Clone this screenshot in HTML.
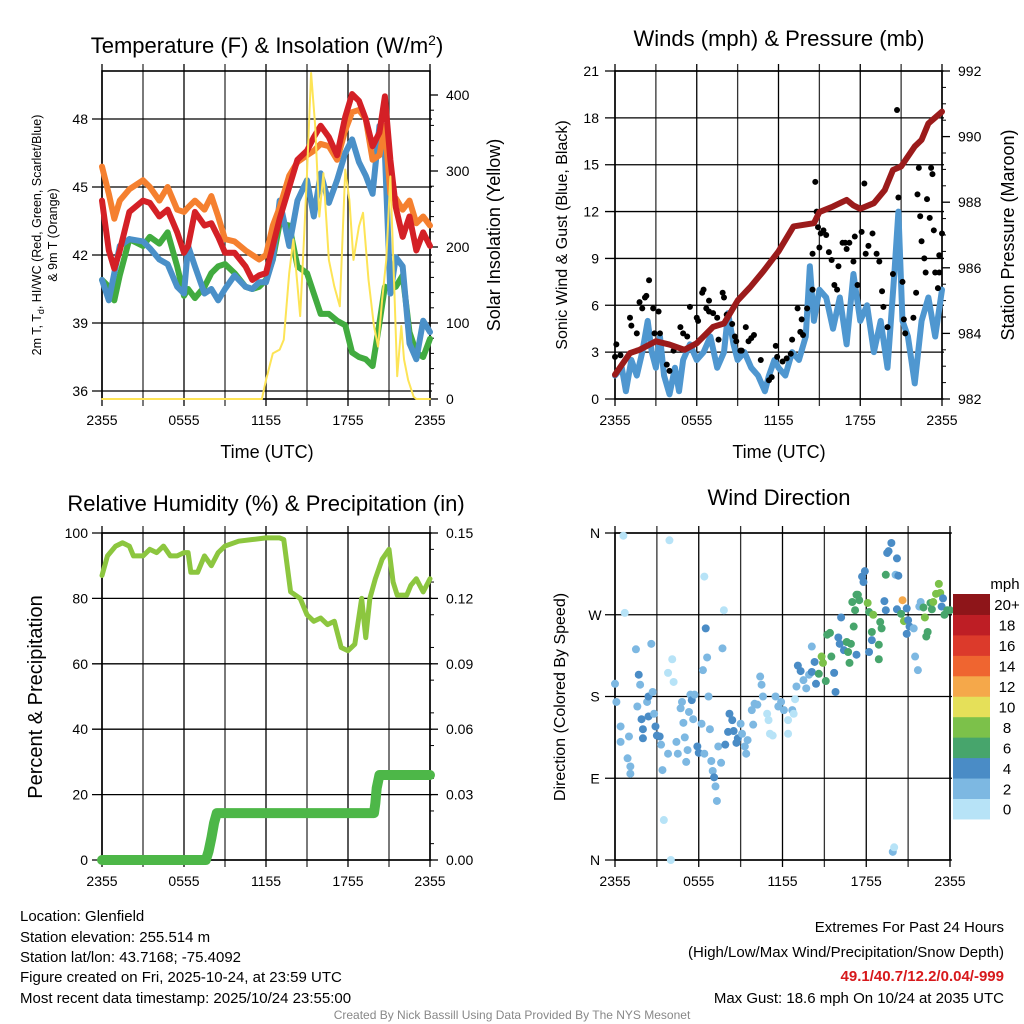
<!DOCTYPE html>
<html><head><meta charset="utf-8">
<style>
html,body{margin:0;padding:0;background:#fff;}
svg{display:block;font-family:"Liberation Sans",Arial,sans-serif;}
</style></head>
<body>
<svg id="c" width="1024" height="1024" viewBox="0 0 1024 1024" xmlns="http://www.w3.org/2000/svg">
<g id="g1"></g>
<g id="g2"></g>
<g id="g3"></g>
<g id="g4"></g>
<text x="267" y="53" font-size="22" text-anchor="middle">Temperature (F) &amp; Insolation (W/m<tspan dy="-8" font-size="14">2</tspan><tspan dy="8">)</tspan></text>
<text x="779" y="46" font-size="22" text-anchor="middle">Winds (mph) &amp; Pressure (mb)</text>
<text x="266" y="511" font-size="22" text-anchor="middle">Relative Humidity (%) &amp; Precipitation (in)</text>
<text x="779" y="505" font-size="22" text-anchor="middle">Wind Direction</text>
<g font-size="15">
<text x="20" y="921">Location: Glenfield</text>
<text x="20" y="942">Station elevation: 255.514 m</text>
<text x="20" y="962">Station lat/lon: 43.7168; -75.4092</text>
<text x="20" y="982">Figure created on Fri, 2025-10-24, at 23:59 UTC</text>
<text x="20" y="1003">Most recent data timestamp: 2025/10/24 23:55:00</text>
</g>
<g font-size="15" text-anchor="end">
<text x="1004" y="932">Extremes For Past 24 Hours</text>
<text x="1004" y="957">(High/Low/Max Wind/Precipitation/Snow Depth)</text>
<text x="1004" y="981" fill="#d7191c" font-weight="bold">49.1/40.7/12.2/0.04/-999</text>
<text x="1004" y="1003">Max Gust: 18.6 mph On 10/24 at 2035 UTC</text>
</g>
<text x="512" y="1019" font-size="12" fill="#888" text-anchor="middle">Created By Nick Bassill Using Data Provided By The NYS Mesonet</text>
</svg>
<script>
// ---- Temperature panel data ----
const tHours=[0,0.5,0.9,1.3,2,3,3.5,4.2,4.8,5.5,6,6.3,6.8,7.5,8,8.5,9,9.7,10.5,11,11.5,12,12.5,13,13.7,14.3,15,15.5,16,16.6,17.2,17.8,18.3,18.8,19.3,19.8,20.3,20.7,21.1,21.5,22,22.5,23,23.5,24];
const temp2m=[44.4,42.2,41.4,42.2,43.9,44.4,44.3,43.7,44.0,43.0,42.1,42.4,43.9,43.3,43.4,42.8,42.1,42.1,41.5,40.9,41.1,41.2,42.4,43.6,45.0,46.2,46.6,47.2,47.7,47.2,46.4,48.1,49.1,48.8,48.0,46.8,47.4,49.0,46.2,44.1,42.8,43.7,42.2,43.0,42.4];
const temp9m=[45.9,44.7,43.6,44.4,44.9,45.3,45.0,44.4,45.0,44.0,43.9,44.1,44.4,44.0,44.6,43.7,42.7,42.6,42.2,42.0,41.8,42.0,43.3,44.1,45.5,46.1,46.4,46.6,46.9,46.8,46.2,47.5,48.3,48.4,48.0,46.2,46.4,47.7,44.7,44.5,44.0,44.4,43.4,43.7,43.3];
const dewpt=[40.9,40.6,40.0,41.1,42.7,42.4,42.8,42.5,43.0,41.5,40.2,40.5,40.1,40.6,41.2,41.5,41.6,41.2,40.6,40.5,40.6,40.9,41.8,43.4,43.3,41.5,41.2,40.3,39.4,39.4,39.1,38.9,37.7,37.5,37.4,37.1,39.0,40.6,40.5,40.6,41.1,38.6,37.7,37.5,38.3];
const windchill=[40.9,40.0,41.2,42.4,42.7,42.6,42.3,41.8,41.6,40.6,40.3,42.4,41.5,40.3,40.5,40.0,40.5,41.1,40.6,40.5,40.8,40.8,41.8,44.4,42.4,44.4,45.3,43.7,45.6,44.3,45.3,46.5,47.1,46.1,45.5,44.7,47.7,46.5,40.3,41.9,41.5,38.1,37.4,39.1,38.6];
const solarHours=[0,11.7,12,12.5,13,13.3,13.7,14,14.3,14.5,14.8,15,15.3,15.6,15.9,16.2,16.6,17,17.4,17.8,18.1,18.4,18.8,19.1,19.5,19.9,20.2,20.5,20.8,21.1,21.4,21.6,21.9,22.1,22.4,22.8,23,24];
const solarVals=[0,0,25,60,65,78,166,210,150,109,218,297,429,359,240,297,183,148,122,302,262,183,227,245,157,96,69,131,183,293,139,30,96,52,25,3,0,0];
// ---- Winds panel data ----
const presHours=[0,1.1,1.8,3,4,5.1,6,7.2,8,9,9.9,10.9,12,13.1,14.6,15,16,17,17.5,18,19,19.8,20.4,21,22,22.5,23,24];
const presVals=[982.74,983.4,983.5,983.76,983.66,983.5,983.7,984.2,984.3,985.0,985.4,985.9,986.5,987.26,987.36,987.7,987.87,988.07,987.9,987.8,987.97,988.37,988.98,989.09,989.7,989.9,990.4,990.76];
const windHours=[0,0.5,0.8,1.2,1.6,2,2.4,2.7,3,3.3,3.6,4,4.4,4.7,5,5.5,6,6.5,7,7.5,8,8.3,8.7,9,9.5,10,10.5,11,11.3,11.7,12,12.5,13,13.5,14,14.3,14.6,15,15.5,16,16.5,17,17.5,18,18.5,19,19.5,20,20.5,20.8,21.1,21.5,22,22.5,23,23.5,24];
const windVals=[1.5,2,0.5,2.5,1.5,3,5,3,2,4,1.5,0.3,2,0.5,2.5,3.5,2.5,3,4,2,3,5.5,3.5,2.5,3,2,1.5,0.5,1.5,2.5,2,1.5,3,2.5,4,8.5,5,7,6.5,4.5,6.5,3.5,8,5,6,3,5,2,8,12,5,4,1,5,6.5,4,7];
const gustHours=[0,0.1,0.4,1.1,1.2,1.6,1.8,2.0,2.2,2.3,2.5,2.8,2.9,3.2,3.3,3.8,4.0,4.3,4.8,5.0,5.3,5.5,6.0,6.1,6.4,6.5,6.7,6.9,6.9,7.2,7.5,7.6,7.9,8.0,8.2,8.6,8.8,8.9,9.2,9.3,9.6,9.8,10.0,10.2,10.7,11.3,11.5,11.8,11.9,12.3,12.6,12.9,13.0,13.4,13.6,13.7,13.8,14.1,14.5,14.5,14.7,14.8,14.9,15.0,15.1,15.3,15.5,15.7,15.9,16.1,16.3,16.4,16.7,16.9,17.0,17.2,17.5,17.6,17.8,18.1,18.3,18.4,18.6,18.9,19.2,19.4,19.6,19.7,20.0,20.4,20.7,20.8,21.1,21.2,21.3,21.9,22.1,22.2,22.3,22.4,22.5,22.7,22.8,22.9,23.1,23.2,23.3,23.4,23.5,23.7,23.8,23.8,24];
const gustVals=[2.7,3.5,2.8,5.2,4.7,4.2,6.2,5.8,6.5,6.6,7.6,5.8,4.2,5.6,4.2,2.2,1.8,3.1,4.6,4.2,4.0,5.9,5.2,5.0,6.8,7.0,5.8,6.3,5.6,5.5,5.2,3.8,6.8,6.5,5.4,4.8,4.0,3.7,3.1,3.1,4.6,3.7,3.9,4.1,2.5,1.2,1.4,3.4,2.7,2.4,2.6,2.9,3.8,5.8,4.3,5.1,4.1,5.8,7.0,9.3,13.9,12.0,11.0,9.7,10.6,10.8,10.5,9.4,8.9,7.3,7.0,8.5,10.0,10.0,9.6,10.0,8.8,10.4,7.3,10.7,13.8,9.3,9.8,10.6,9.3,8.8,6.9,5.9,4.6,8.0,18.5,12.9,7.5,5.1,4.2,5.2,6.8,13.1,14.8,11.7,10.1,9.0,8.1,12.8,11.6,14.8,14.4,10.8,8.1,7.1,8.1,9.2,10.6];
// ---- Humidity panel data ----
const rhHours=[0,0.4,1,1.5,2,2.3,3,3.5,4,4.5,5,5.5,6,6.3,6.5,7,7.5,8,8.5,9,10,11,12,13,13.3,13.8,14.5,15,15.5,16,16.5,17,17.5,18,18.5,19,19.3,19.6,20,20.5,21,21.3,21.6,22,22.3,22.6,23,23.5,24];
const rhVals=[87,93,96,97,96,93,93,95,94,96,93,93,94,94,88,88,93,90,94,96,97.5,98,98.5,98.5,98,82,80,75,73,74,72,73,65,64,66,80,68,80,86,92,95,85,81,81,81,84,86,82,86];
const pcpHours=[0,7.6,7.8,8.0,8.2,8.4,19.9,20.0,20.1,20.3,24];
const pcpVals=[0,0,0.004,0.01,0.017,0.0215,0.0215,0.026,0.033,0.039,0.039];
// ---- Wind direction panel data ----
const dirHours=[0.6,3.9,0.7,7.8,6.4,3.5,4.0,19.9,20.0,0,0.1,0.4,0.4,0.9,1.1,1.1,1.0,1.5,1.7,1.8,1.6,1.9,2.0,2.0,2.3,2.4,2.4,2.6,2.7,2.8,2.9,3.0,3.2,3.3,3.4,3.8,3.8,4.1,4.2,4.4,4.5,4.7,4.8,4.9,5.0,5.1,5.2,5.3,5.4,5.5,5.6,5.7,5.9,6.0,6.2,6.3,6.5,6.6,6.4,6.7,6.8,6.9,7.0,7.1,7.2,7.3,7.6,7.4,7.7,7.9,8.1,8.2,8.4,8.5,8.7,8.8,9.0,9.1,9.3,9.4,9.5,9.8,9.9,10.0,10.2,10.4,10.5,10.6,10.9,11.0,11.1,11.3,11.5,11.7,11.9,12.1,12.4,12.4,12.7,12.8,12.9,13.0,13.1,13.3,13.5,13.7,13.9,14.1,14.1,14.3,14.4,14.6,14.8,14.9,15.1,15.2,15.4,15.5,15.7,15.8,16.0,16.1,16.2,16.4,16.6,16.7,16.8,16.9,17.1,17.2,17.3,17.4,17.5,17.7,17.8,17.9,18.1,18.2,18.2,18.4,18.4,18.5,18.9,18.9,19.0,19.1,19.3,19.4,19.5,19.6,19.8,20.2,20.1,20.3,20.2,20.5,20.6,20.7,20.9,20.9,21.0,21.1,21.4,21.5,21.7,21.8,21.9,22.1,22.2,22.4,22.3,22.6,22.7,22.8,23.0,23.2,23.3,23.4,23.5,23.6,23.8,24.0,17.3,17.0,19.4];
const dirDeg=[357,352,272,275,312,44,0,9,14,194,174,147,130,112,103,95,136,232,204,193,169,155,144,134,174,180,158,238,185,161,147,137,136,127,99,117,206,221,196,130,117,167,174,151,135,108,121,163,182,176,155,182,125,118,150,209,255,223,117,180,144,109,98,91,81,65,107,125,233,127,141,161,154,142,129,134,150,139,125,117,132,165,149,172,171,202,193,180,161,154,139,137,180,169,174,165,139,154,165,161,177,191,214,208,198,189,204,207,235,218,194,205,224,217,197,248,250,224,206,185,245,238,267,231,240,229,217,238,257,275,226,292,286,312,306,318,283,273,229,242,251,270,237,221,262,255,285,314,338,340,349,332,314,313,276,271,286,263,249,277,264,257,255,224,209,279,284,278,267,251,246,283,276,284,293,304,294,279,288,270,275,275,292,284,275];
const dirSpeed=[1,1,1,1,1,1,1,3,1,3,3,3,3,3,3,3,3,3,5,3,3,5,5,5,3,5,5,3,3,3,5,5,5,3,3,3,1,1,1,3,3,3,3,3,3,3,3,3,3,5,3,3,5,5,3,3,5,3,3,3,3,3,3,5,3,3,3,3,3,5,5,5,5,5,5,5,3,3,3,3,3,3,3,3,3,3,3,3,1,1,1,1,3,3,3,3,1,1,3,1,1,3,5,5,3,3,3,5,3,5,5,7,9,9,7,7,7,7,5,5,5,5,5,5,7,7,7,7,7,7,5,7,7,5,5,5,9,7,5,5,7,9,7,7,7,7,5,7,5,5,5,5,3,5,5,7,13,9,5,5,5,5,3,3,3,3,3,7,9,7,7,7,7,9,9,9,9,5,5,7,7,7,7,7,5];
const speedBins=["0","2","4","6","8","10","12","14","16","18","20+"];
const binColors=["#b7e3f7","#7db8e2","#4a8cc6","#47a56c","#7cc14a","#e5e059","#f5a84a","#ef6530","#dc3a2b","#be1e25","#8e1519"];
const xTickLabels=["2355","0555","1155","1755","2355"];

const NS="http://www.w3.org/2000/svg";
function mk(parent,tag,attrs){const e=document.createElementNS(NS,tag);for(const k in attrs)e.setAttribute(k,attrs[k]);parent.appendChild(e);return e;}
function lin(d0,d1,r0,r1){return v=>r0+(v-d0)/(d1-d0)*(r1-r0);}

function frame(g,L,T,R,B,hGrid,nameP){
  const xs=lin(0,24,L,R);
  for(let h=0;h<=24;h+=3){const x=xs(h);
    const l=mk(g,'line',{x1:x,y1:T-7,x2:x,y2:B+7,stroke:(h%6===0)?'#000':'#333','stroke-width':1.3});
    }
  hGrid.forEach(y=>{const l=mk(g,'line',{x1:L-10,y1:y,x2:R+2,y2:y,stroke:'#000','stroke-width':1.3});
    });
  const r=mk(g,'rect',{x:L,y:T,width:R-L,height:B-T,fill:'none',stroke:'#000','stroke-width':1.6});
  
  xTickLabels.forEach((s,i)=>{const t=mk(g,'text',{x:xs(i*6),y:B+26,'font-size':14,'text-anchor':'middle'});t.textContent=s;
    });
  return xs;
}
function ylab(g,x,y,s,anchor,name){const t=mk(g,'text',{x:x,y:y+5,'font-size':14,'text-anchor':anchor});t.textContent=s;
  }
function poly(g,xs,ys,hs,vs,color,w,name){const p=mk(g,'polyline',{points:hs.map((h,i)=>xs(h)+','+ys(vs[i])).join(' '),fill:'none',stroke:color,'stroke-width':w,'stroke-linejoin':'round','stroke-linecap':'round'});
  return p;}
function rtitle(g,x,y,s,size,name){const t=mk(g,'text',{x:x,y:y,'font-size':size,'text-anchor':'middle',transform:`rotate(-90 ${x} ${y})`});t.textContent=s;
  return t;}
function rticks(g,R,ys,vals,minor){vals.forEach(v=>{mk(g,'line',{x1:R,y1:ys(v),x2:R+8,y2:ys(v),stroke:'#000','stroke-width':1.3});});
  minor.forEach(v=>{mk(g,'line',{x1:R,y1:ys(v),x2:R+4,y2:ys(v),stroke:'#000','stroke-width':1});});}

// Panel 1
(function(){const g=document.getElementById('g1');const L=102,T=71,R=430,B=399;
  const ty=lin(36,48,391,119);const sy=lin(0,400,399,95);
  const xs=frame(g,L,T,R,B,[36,39,42,45,48].map(ty),'temperature');
  [36,39,42,45,48].forEach(v=>ylab(g,L-14,ty(v),String(v),'end','temp-y-tick-label'));
  [0,100,200,300,400].forEach(v=>ylab(g,R+16,sy(v),String(v),'start','solar-y-tick-label'));
  const mn=[];for(let v=20;v<420;v+=20)if(v%100)mn.push(v);rticks(g,R,sy,[0,100,200,300,400],mn);
  poly(g,xs,ty,tHours,dewpt,'#41ab3f',6,'dewpoint-line');
  poly(g,xs,ty,tHours,windchill,'#4a90c8',6,'windchill-line');
  poly(g,xs,ty,tHours,temp9m,'#f5802f',6,'temp-9m-line');
  poly(g,xs,ty,tHours,temp2m,'#d42026',6,'temp-2m-line');
  poly(g,xs,sy,solarHours,solarVals,'#fde456',2,'solar-insolation-line');
  const t=mk(g,'text',{x:267,y:458,'font-size':18,'text-anchor':'middle'});t.textContent='Time (UTC)';
  
  const a=mk(g,'text',{x:41,y:235,'font-size':12.5,'text-anchor':'middle',transform:'rotate(-90 41 235)'});
  a.innerHTML='2m T, T<tspan font-size="9" dy="3">d</tspan><tspan dy="-3">, HI/WC (Red, Green, Scarlet/Blue)</tspan>';
  
  rtitle(g,57,235,'& 9m T (Orange)',12.5,'temp-y-axis-title-line2');
  rtitle(g,500,235,'Solar Insolation (Yellow)',18,'solar-y-axis-title');
})();
// Panel 2
(function(){const g=document.getElementById('g2');const L=615,T=71,R=942,B=399;
  const wy=lin(0,21,399,71);const py=lin(982,992,399,71);
  const xs=frame(g,L,T,R,B,[0,3,6,9,12,15,18,21].map(wy),'winds');
  [0,3,6,9,12,15,18,21].forEach(v=>ylab(g,L-16,wy(v),String(v),'end','wind-y-tick-label'));
  [982,984,986,988,990,992].forEach(v=>ylab(g,R+16,py(v),String(v),'start','pressure-y-tick-label'));
  const mn=[];for(let v=982.5;v<992;v+=0.5)if(v%2)mn.push(v);rticks(g,R,py,[982,984,986,988,990,992],mn);
  poly(g,xs,wy,windHours,windVals,'#4f97d0',6,'sonic-wind-line');
  gustHours.forEach((h,i)=>{const c=mk(g,'circle',{cx:xs(h),cy:wy(gustVals[i]),r:3,fill:'#000'});
    });
  poly(g,xs,py,presHours,presVals,'#9b1b1b',6,'pressure-line');
  const t=mk(g,'text',{x:779,y:458,'font-size':18,'text-anchor':'middle'});t.textContent='Time (UTC)';
  
  rtitle(g,567,235,'Sonic Wind & Gust (Blue, Black)',16,'wind-y-axis-title');
  rtitle(g,1014,235,'Station Pressure (Maroon)',18,'pressure-y-axis-title');
})();
// Panel 3
(function(){const g=document.getElementById('g3');const L=102,T=533,R=430,B=860;
  const ry=lin(0,100,860,533);const qy=lin(0,0.15,860,533);
  const xs=frame(g,L,T,R,B,[0,20,40,60,80,100].map(ry),'humidity');
  [0,20,40,60,80,100].forEach(v=>ylab(g,L-14,ry(v),String(v),'end','rh-y-tick-label'));
  ['0.00','0.03','0.06','0.09','0.12','0.15'].forEach((s,i)=>ylab(g,R+16,qy(i*0.03),s,'start','precip-y-tick-label'));
  const mn=[];for(let v=0.0075;v<0.15;v+=0.015)mn.push(v);rticks(g,R,qy,[0,0.03,0.06,0.09,0.12,0.15],mn);
  poly(g,xs,ry,rhHours,rhVals,'#8cc63f',5,'relative-humidity-line');
  poly(g,xs,qy,pcpHours,pcpVals,'#4db748',10,'precipitation-line');
  rtitle(g,42,697,'Percent & Precipitation',20,'rh-y-axis-title');
})();
// Panel 4
(function(){const g=document.getElementById('g4');const L=615,T=533,R=942,B=860;
  const dy=lin(0,360,860,533);
  const xs=frame(g,L,T,R+8,B,[0,90,180,270,360].map(dy),'wind-direction');
  ['N','E','S','W','N'].forEach((s,i)=>ylab(g,L-20,dy(i*90),s,'middle','direction-y-tick-label'));
  dirHours.forEach((h,i)=>{const b=Math.min(10,Math.floor(dirSpeed[i]/2));
    const c=mk(g,'circle',{cx:xs(h),cy:dy(dirDeg[i]),r:4,fill:binColors[b]});
    });
  rtitle(g,565,697,'Direction (Colored By Speed)',16,'direction-y-axis-title');
  const lg=mk(g,'g',{});
  const t=mk(lg,'text',{x:1005,y:589,'font-size':15,'text-anchor':'middle'});t.textContent='mph';
  
  const h=20.45;
  speedBins.forEach((s,i)=>{const y=594+(10-i)*h;
    const r=mk(lg,'rect',{x:953,y:y,width:37,height:h+0.5,fill:binColors[i]});
    
    const tx=mk(lg,'text',{x:1007,y:y+h/2+6,'font-size':15,'text-anchor':'middle'});tx.textContent=s;
    });
})();
</script>
</body></html>
